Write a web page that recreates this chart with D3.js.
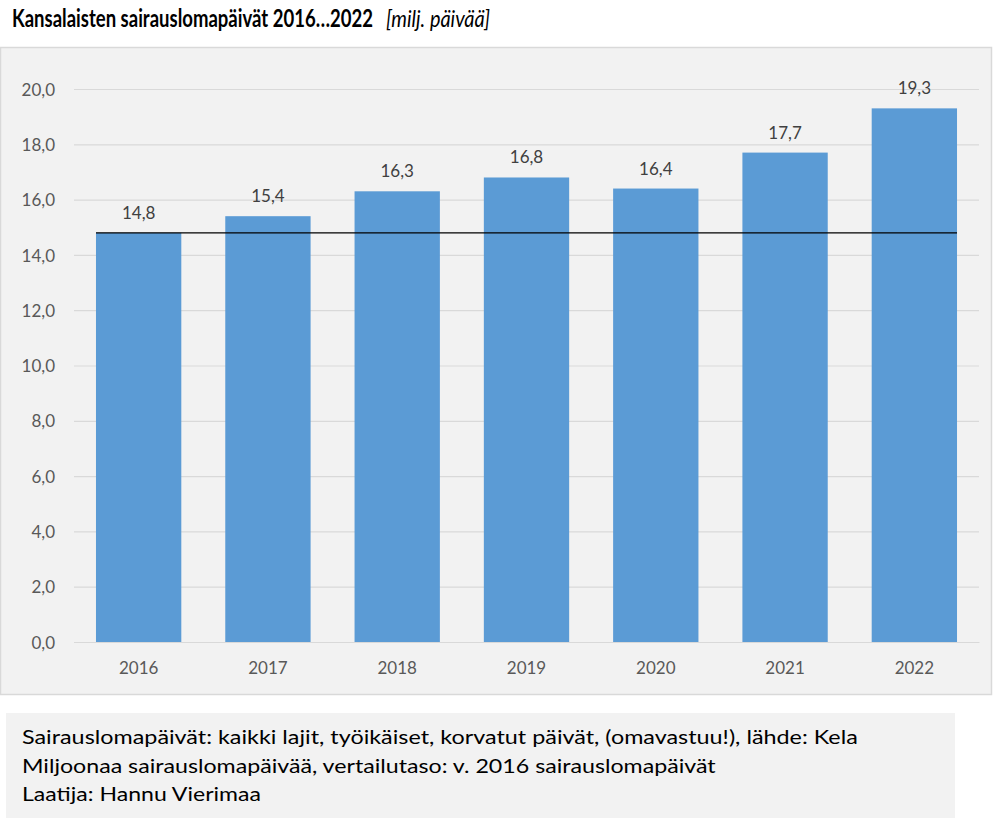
<!DOCTYPE html>
<html><head><meta charset="utf-8">
<script src="https://cdn.jsdelivr.net/npm/d3@7"></script>
<style>
html,body{margin:0;padding:0;background:#fff;}
svg{display:block;}
</style></head>
<body>
<script>
const years = ["2016","2017","2018","2019","2020","2021","2022"];
const values = [14.8, 15.4, 16.3, 16.8, 16.4, 17.7, 19.3];
const baselineValue = 14.8;
const yTicks = [0,2,4,6,8,10,12,14,16,18,20];
const titleMain = "Kansalaisten sairauslomapäivät 2016…2022";
const titleUnit = "[milj. päivää]";
const footerLines = [
  "Sairauslomapäivät: kaikki lajit, työikäiset, korvatut päivät, (omavastuu!), lähde: Kela",
  "Miljoonaa sairauslomapäivää, vertailutaso: v. 2016 sairauslomapäivät",
  "Laatija: Hannu Vierimaa"
];
const footerWidths = [836, 694, 239];

const W = 1004, H = 833;
const svg = d3.select("body").append("svg").attr("width", W).attr("height", H);
const font = "Lato, 'Open Sans', sans-serif";
const fmt = v => d3.format(".1f")(v).replace(".", ",");

// place a text and squeeze it horizontally to a target width
function fitText(sel, tx, ty, width) {
  const w = sel.node().getComputedTextLength();
  const sx = width / w;
  sel.attr("x", 0).attr("y", 0).attr("transform", `translate(${tx},${ty}) scale(${sx},1)`);
}

// title
fitText(svg.append("text")
  .attr("font-family", font).attr("font-weight", "bold").attr("font-size", 24)
  .attr("fill", "#000").text(titleMain), 12, 27, 361);
fitText(svg.append("text")
  .attr("font-family", font).attr("font-style", "italic").attr("font-size", 23)
  .attr("fill", "#000").text(titleUnit), 386, 27, 104);

// panel
svg.append("rect").attr("x", 0.5).attr("y", 47.5).attr("width", 991).attr("height", 647)
  .attr("fill", "#F2F2F2").attr("stroke", "#D9D9D9").attr("stroke-width", 1.5);

const x = d3.scaleBand().domain(years).range([74, 979]).paddingInner(0.34).paddingOuter(0.17);
const y = d3.scaleLinear().domain([0, 20]).range([642, 89]);

// gridlines + y labels
const yAxis = d3.axisLeft(y).tickValues(yTicks).tickSize(-(979 - 74)).tickPadding(19).tickFormat(fmt);
const gy = svg.append("g").attr("transform", "translate(74,0)").call(yAxis);
gy.select(".domain").remove();
gy.selectAll(".tick line").attr("stroke", "#D9D9D9").attr("stroke-width", 1.2);
gy.selectAll(".tick text").attr("font-family", font).attr("font-size", 17).attr("fill", "#595959").attr("dy", "0.36em");

// bars
svg.append("g").selectAll("rect").data(values).join("rect")
  .attr("x", (d, i) => x(years[i])).attr("width", x.bandwidth())
  .attr("y", d => y(d)).attr("height", d => y(0) - y(d))
  .attr("fill", "#5B9BD5");

// x axis
const xAxis = d3.axisBottom(x).tickSize(0).tickPadding(20);
const gx = svg.append("g").attr("transform", `translate(0,${y(0)})`).call(xAxis);
gx.select(".domain").attr("stroke", "#D9D9D9").attr("stroke-width", 1.2);
gx.selectAll(".tick text").attr("font-family", font).attr("font-size", 17).attr("fill", "#595959");

// reference line
svg.append("line")
  .attr("x1", x(years[0])).attr("x2", x(years[years.length - 1]) + x.bandwidth())
  .attr("y1", y(baselineValue)).attr("y2", y(baselineValue))
  .attr("stroke", "#000").attr("stroke-width", 1.3);

// data labels
svg.append("g").selectAll("text").data(values).join("text")
  .attr("x", (d, i) => x(years[i]) + x.bandwidth() / 2)
  .attr("y", d => y(d) - 14)
  .attr("text-anchor", "middle")
  .attr("font-family", font).attr("font-size", 17).attr("fill", "#404040")
  .text(fmt);

// footer
svg.append("rect").attr("x", 6).attr("y", 713).attr("width", 949).attr("height", 105).attr("fill", "#F2F2F2");
const fg = svg.append("g");
footerLines.forEach((line, i) => {
  fitText(fg.append("text")
    .attr("font-family", font).attr("font-size", 20).attr("fill", "#000").text(line),
    22, 744 + i * 28.5, footerWidths[i]);
});
</script>
</body></html>
